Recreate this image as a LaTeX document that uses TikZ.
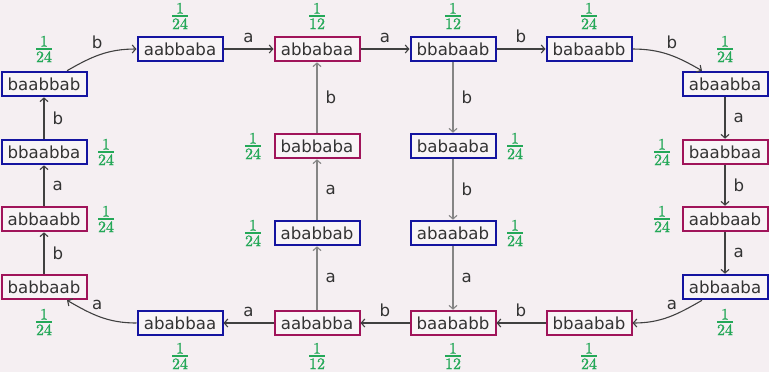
\documentclass[tikz,border=0pt]{standalone}
\usepackage{fontspec}
\setsansfont{DejaVu Sans}
\newfontfamily\probfont{lmroman10-regular.otf}[FakeBold=1]
\usetikzlibrary{arrows.meta}
\definecolor{bgc}{HTML}{F5EFF2}
\definecolor{boxfill}{HTML}{F8F4F6}
\definecolor{bluec}{RGB}{20,20,160}
\definecolor{magc}{RGB}{160,20,90}
\definecolor{txtc}{HTML}{333333}
\definecolor{edgedark}{HTML}{404040}
\definecolor{edgegray}{HTML}{858585}
\definecolor{probc}{RGB}{36,168,88}
\tikzset{
  word/.style={draw, fill=boxfill, line width=1pt, minimum width=42.5pt,
    minimum height=12.3pt, inner sep=0pt, text=txtc,
    font=\sffamily\fontsize{8.3}{10}\selectfont},
  wblue/.style={word, draw=bluec},
  wmag/.style={word, draw=magc},
  prob/.style={text=probc, inner sep=0pt, font=\probfont\fontsize{8}{9}\selectfont},
  trans/.style={draw=edgedark, line width=0.55pt,
    -{Straight Barb[length=1.8pt,width=4pt]}},
  transg/.style={trans, draw=edgegray},
  lbl/.style={text=txtc, inner sep=1.5pt, font=\sffamily\fontsize{8.3}{10}\selectfont},
}
% stacked fraction 1 over #1 with a tight bar
\newcommand{\pr}[1]{\vbox{\halign{\hfil##\hfil\cr 1\cr
  \noalign{\kern0.9pt\hrule height0.6pt\kern0.9pt}#1\cr}}}
\begin{document}
\begin{tikzpicture}[x=0.5pt,y=-0.5pt]
\useasboundingbox[fill=bgc] (0,0) rectangle (769,372);

% top row
\node[wblue] (n1) at (180,49) {aabbaba};
\node[wmag]  (n2) at (317,49) {abbabaa};
\node[wblue] (n3) at (453,49) {bbabaab};
\node[wblue] (n4) at (589,49) {babaabb};
% right column
\node[wblue] (r1) at (725,84)  {abaabba};
\node[wmag]  (r2) at (725,152) {baabbaa};
\node[wmag]  (r3) at (725,219) {aabbaab};
\node[wblue] (r4) at (725,287) {abbaaba};
% bottom row
\node[wmag]  (b1) at (589,323) {bbaabab};
\node[wmag]  (b2) at (453,323) {baababb};
\node[wmag]  (b3) at (317,323) {aababba};
\node[wblue] (b4) at (180,323) {ababbaa};
% left column
\node[wmag]  (l1) at (44,287) {babbaab};
\node[wmag]  (l2) at (44,219) {abbaabb};
\node[wblue] (l3) at (44,152) {bbaabba};
\node[wblue] (l4) at (44,84)  {baabbab};
% inner columns
\node[wmag]  (c1) at (317,146) {babbaba};
\node[wblue] (c2) at (317,233) {ababbab};
\node[wblue] (d1) at (453,146) {babaaba};
\node[wblue] (d2) at (453,233) {abaabab};

% probabilities
\node[prob] (p1) at (180,16) {\pr{24}};
\node[prob] (p2) at (317,16) {\pr{12}};
\node[prob] (p3) at (453,16) {\pr{12}};
\node[prob] (p4) at (589,16) {\pr{24}};
\node[prob] (q1) at (725,49)  {\pr{24}};
\node[prob] (q2) at (662,152) {\pr{24}};
\node[prob] (q3) at (662,219) {\pr{24}};
\node[prob] (q4) at (725,322) {\pr{24}};
\node[prob] (s1) at (589,356) {\pr{24}};
\node[prob] (s2) at (453,356) {\pr{12}};
\node[prob] (s3) at (317,356) {\pr{12}};
\node[prob] (s4) at (180,356) {\pr{24}};
\node[prob] (t1) at (44,322)  {\pr{24}};
\node[prob] (t2) at (106,219) {\pr{24}};
\node[prob] (t3) at (106,152) {\pr{24}};
\node[prob] (t4) at (44,49)   {\pr{24}};
\node[prob] (u1) at (253,146) {\pr{24}};
\node[prob] (u2) at (253,233) {\pr{24}};
\node[prob] (v1) at (515,146) {\pr{24}};
\node[prob] (v2) at (515,233) {\pr{24}};

% outer cycle
\draw[trans] (l4) to[out=30,in=180] node[lbl,pos=0.45,above=1.5pt] {b} (n1);
\draw[trans] (n1) -- node[lbl,above=1.5pt] {a} (n2);
\draw[trans] (n2) -- node[lbl,above=1.5pt] {a} (n3);
\draw[trans] (n3) -- node[lbl,above=1.5pt] {b} (n4);
\draw[trans] (n4) to[out=0,in=150] node[lbl,pos=0.55,above=1.5pt] {b} (r1);
\draw[trans] (r1) -- node[lbl,right=2.5pt] {a} (r2);
\draw[trans] (r2) -- node[lbl,right=2.5pt] {b} (r3);
\draw[trans] (r3) -- node[lbl,right=2.5pt] {a} (r4);
\draw[trans] (r4) to[out=210,in=0] node[lbl,pos=0.45,above=1.5pt] {a} (b1);
\draw[trans] (b1) -- node[lbl,above=1.5pt] {b} (b2);
\draw[trans] (b2) -- node[lbl,above=1.5pt] {b} (b3);
\draw[trans] (b3) -- node[lbl,above=1.5pt] {a} (b4);
\draw[trans] (b4) to[out=180,in=-30] node[lbl,pos=0.55,above=1.5pt] {a} (l1);
\draw[trans] (l1) -- node[lbl,right=2.5pt] {b} (l2);
\draw[trans] (l2) -- node[lbl,right=2.5pt] {a} (l3);
\draw[trans] (l3) -- node[lbl,right=2.5pt] {b} (l4);

% inner paths
\draw[transg] (b3) -- node[lbl,right=2.5pt] {a} (c2);
\draw[transg] (c2) -- node[lbl,right=2.5pt] {a} (c1);
\draw[transg] (c1) -- node[lbl,right=2.5pt] {b} (n2);
\draw[transg] (n3) -- node[lbl,right=2.5pt] {b} (d1);
\draw[transg] (d1) -- node[lbl,right=2.5pt] {b} (d2);
\draw[transg] (d2) -- node[lbl,right=2.5pt] {a} (b2);
\end{tikzpicture}
\end{document}
